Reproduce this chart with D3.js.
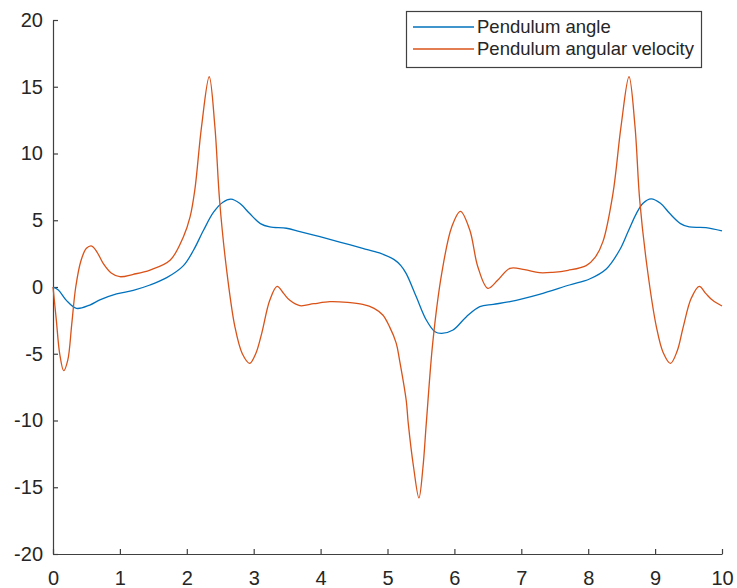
<!DOCTYPE html>
<html>
<head>
<meta charset="utf-8">
<script src="https://cdn.jsdelivr.net/npm/d3@7"></script>
<style>
  body { margin: 0; background: #fff; }
  svg { display: block; font-family: Arial, "Liberation Sans", sans-serif; }
  .axis text { font-size: 20px; fill: #262626; }
  .axis path, .axis line { stroke: #404040; stroke-width: 1.2; }
</style>
</head>
<body>
<div id="graph"></div>
<script>
// values
var angleT = [0, 0.08, 0.2, 0.35, 0.55, 0.7, 0.95, 1.2, 1.45, 1.7, 1.95, 2.1, 2.25, 2.4, 2.54, 2.66, 2.79, 2.94, 3.1, 3.24, 3.49, 3.69, 3.99, 4.3, 4.63, 4.88, 5.1, 5.2, 5.28, 5.43, 5.58, 5.71, 5.81, 5.98, 6.18, 6.38, 6.58, 6.83, 7.27, 7.72, 8.02, 8.27, 8.47, 8.6, 8.72, 8.82, 8.94, 9.08, 9.22, 9.38, 9.51, 9.76, 10];
var angleV = [0, -0.22, -1.0, -1.6, -1.35, -0.97, -0.52, -0.25, 0.15, 0.7, 1.6, 2.75, 4.25, 5.6, 6.35, 6.58, 6.27, 5.5, 4.75, 4.5, 4.4, 4.15, 3.77, 3.35, 2.9, 2.55, 2.05, 1.6, 1.0, -0.73, -2.47, -3.35, -3.47, -3.22, -2.22, -1.47, -1.3, -1.1, -0.55, 0.15, 0.6, 1.35, 2.77, 4.2, 5.5, 6.27, 6.6, 6.27, 5.5, 4.75, 4.5, 4.45, 4.2];

var velT = [0, 0.05, 0.1, 0.16, 0.22, 0.28, 0.34, 0.42, 0.5, 0.58, 0.66, 0.75, 0.87, 1.0, 1.2, 1.45, 1.75, 1.95, 2.05, 2.12, 2.22, 2.335, 2.42, 2.49, 2.59, 2.72, 2.83, 2.94, 3.03, 3.12, 3.24, 3.35, 3.45, 3.54, 3.69, 3.9, 4.14, 4.4, 4.63, 4.8, 4.93, 5.03, 5.13, 5.18, 5.28, 5.31, 5.39, 5.47, 5.53, 5.58, 5.68, 5.81, 5.96, 6.09, 6.23, 6.35, 6.5, 6.65, 6.83, 7.05, 7.27, 7.47, 7.7, 7.97, 8.1, 8.22, 8.37, 8.49, 8.61, 8.7, 8.77, 8.88, 9.02, 9.12, 9.23, 9.33, 9.42, 9.54, 9.66, 9.76, 9.86, 10];
var velV = [0, -2.5, -5.0, -6.27, -5.5, -2.8, 0, 2.0, 2.9, 3.07, 2.6, 1.77, 1.05, 0.77, 0.95, 1.27, 2.0, 3.77, 5.27, 7.27, 12.0, 15.75, 12.0, 6.5, 1.5, -3.0, -5.0, -5.72, -5.0, -3.47, -1.0, 0.05, -0.5, -1.0, -1.4, -1.25, -1.1, -1.15, -1.3, -1.6, -2.1, -2.97, -4.2, -5.47, -8.5, -10.2, -13.5, -15.8, -13.5, -10.2, -4.0, 1.0, 4.5, 5.67, 4.27, 1.52, -0.1, 0.52, 1.4, 1.3, 1.07, 1.1, 1.25, 1.6, 2.2, 3.4, 7.0, 12.0, 15.75, 12.0, 6.5, 1.5, -3.0, -4.9, -5.72, -4.8, -3.0, -0.85, 0.05, -0.5, -1.0, -1.42];

var xTicks = [0, 1, 2, 3, 4, 5, 6, 7, 8, 9, 10];
var yTicks = [-20, -15, -10, -5, 0, 5, 10, 15, 20];
var seriesNames = ["Pendulum angle", "Pendulum angular velocity"];
var colors = ["#0072BD", "#D95319"];

var W = 737, H = 588;
var x = d3.scaleLinear().domain([0, 10]).range([53, 722]);
var y = d3.scaleLinear().domain([-20, 20]).range([554, 20]);

var svg = d3.select("#graph").append("svg")
  .attr("width", W)
  .attr("height", H);

// plain hyphen for negatives, as in the original
var fmt = function(d) { return String(d); };

// axes, ticks point inward like matlab
svg.append("g")
  .attr("class", "axis")
  .attr("transform", "translate(0," + y(-20) + ")")
  .call(d3.axisBottom(x).tickValues(xTicks).tickFormat(fmt).tickSizeInner(-5).tickSizeOuter(0).tickPadding(17));

svg.append("g")
  .attr("class", "axis")
  .attr("transform", "translate(" + x(0) + ",0)")
  .call(d3.axisLeft(y).tickValues(yTicks).tickFormat(fmt).tickSizeInner(-5).tickSizeOuter(0).tickPadding(10));

var line = d3.line()
  .x(function(d) { return x(d[0]); })
  .y(function(d) { return y(d[1]); })
  .curve(d3.curveCatmullRom.alpha(0.5));

var data = [d3.zip(angleT, angleV), d3.zip(velT, velV)];
for (let j = 0; j < data.length; j++) {
  svg.append("path")
    .attr("d", line(data[j]))
    .attr("fill", "none")
    .attr("stroke", colors[j])
    .attr("stroke-width", 1.3);
}

// legend
var lg = svg.append("g");
lg.append("rect")
  .attr("x", 406.5).attr("y", 11.5)
  .attr("width", 295).attr("height", 56)
  .attr("fill", "#fff")
  .attr("stroke", "#404040")
  .attr("stroke-width", 1.2);
for (let j = 0; j < seriesNames.length; j++) {
  var ly = 27 + j * 22;
  lg.append("line")
    .attr("x1", 413).attr("x2", 474)
    .attr("y1", ly).attr("y2", ly)
    .attr("stroke", colors[j])
    .attr("stroke-width", 1.3);
  lg.append("text")
    .attr("x", 477).attr("y", ly)
    .attr("dy", "0.35em")
    .style("font-size", "18.5px")
    .style("fill", "#262626")
    .text(seriesNames[j]);
}
</script>
</body>
</html>
